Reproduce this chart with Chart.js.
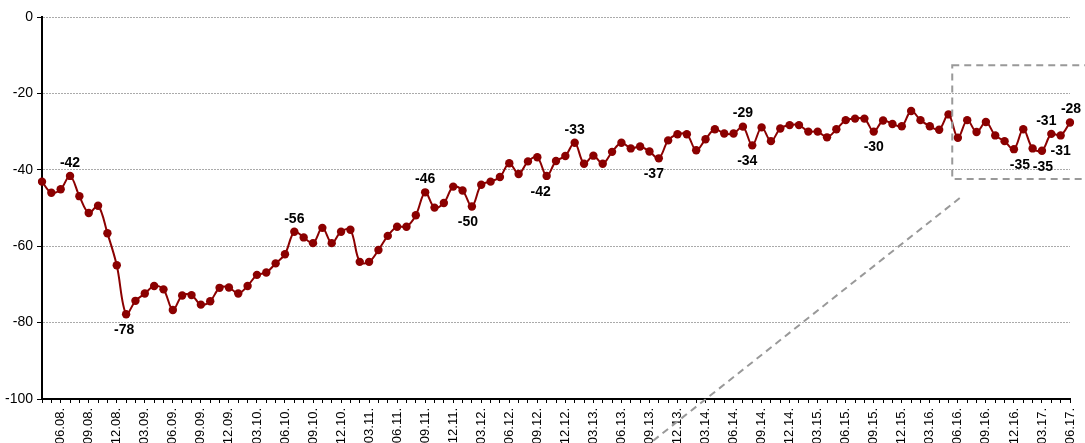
<!DOCTYPE html>
<html>
<head>
<meta charset="utf-8">
<script src="https://cdn.jsdelivr.net/npm/chart.js@4.4.1/dist/chart.umd.min.js"></script>
<style>
  html, body { margin: 0; padding: 0; overflow: hidden; background: #fff; }
</style>
</head>
<body>
<canvas id="chart" width="1085" height="458"></canvas>
<script>
// monthly categories, 04.08 .. 06.17
var months = [
  '04.08.', '05.08.', '06.08.', '07.08.', '08.08.', '09.08.', '10.08.', '11.08.', '12.08.',
  '01.09.', '02.09.', '03.09.', '04.09.', '05.09.', '06.09.', '07.09.', '08.09.', '09.09.', '10.09.', '11.09.', '12.09.',
  '01.10.', '02.10.', '03.10.', '04.10.', '05.10.', '06.10.', '07.10.', '08.10.', '09.10.', '10.10.', '11.10.', '12.10.',
  '01.11.', '02.11.', '03.11.', '04.11.', '05.11.', '06.11.', '07.11.', '08.11.', '09.11.', '10.11.', '11.11.', '12.11.',
  '01.12.', '02.12.', '03.12.', '04.12.', '05.12.', '06.12.', '07.12.', '08.12.', '09.12.', '10.12.', '11.12.', '12.12.',
  '01.13.', '02.13.', '03.13.', '04.13.', '05.13.', '06.13.', '07.13.', '08.13.', '09.13.', '10.13.', '11.13.', '12.13.',
  '01.14.', '02.14.', '03.14.', '04.14.', '05.14.', '06.14.', '07.14.', '08.14.', '09.14.', '10.14.', '11.14.', '12.14.',
  '01.15.', '02.15.', '03.15.', '04.15.', '05.15.', '06.15.', '07.15.', '08.15.', '09.15.', '10.15.', '11.15.', '12.15.',
  '01.16.', '02.16.', '03.16.', '04.16.', '05.16.', '06.16.', '07.16.', '08.16.', '09.16.', '10.16.', '11.16.', '12.16.',
  '01.17.', '02.17.', '03.17.', '04.17.', '05.17.', '06.17.'
];

var values = [
  -43.1, -46.0, -45.1, -41.6, -46.9, -51.3, -49.4, -56.6, -65.0,
  -77.8, -74.3, -72.4, -70.4, -71.3, -76.7, -72.9, -72.8, -75.3, -74.4, -70.9, -70.8,
  -72.4, -70.4, -67.5, -66.9, -64.5, -62.1, -56.2, -57.7, -59.2, -55.2, -59.2, -56.2,
  -55.7, -64.1, -64.1, -61.0, -57.3, -54.9, -54.9, -51.9, -45.9, -49.9, -48.7, -44.4,
  -45.4, -49.6, -43.9, -43.1, -41.9, -38.3, -41.1, -37.8, -36.7, -41.6, -37.7, -36.4,
  -32.9, -38.4, -36.3, -38.4, -35.3, -32.9, -34.4, -33.9, -35.2, -37.0, -32.3, -30.7,
  -30.7, -34.9, -32.0, -29.4, -30.5, -30.5, -28.7, -33.6, -28.9, -32.5, -29.2, -28.3,
  -28.3, -30.0, -30.0, -31.5, -29.4, -27.0, -26.6, -26.6, -30.0, -27.1, -28.0, -28.6,
  -24.6, -27.0, -28.6, -29.5, -25.5, -31.6, -27.0, -30.1, -27.5, -31.0, -32.5, -34.6,
  -29.4, -34.4, -35.0, -30.6, -31.0, -27.6
];

var quarterMonths = ['03', '06', '09', '12'];
var yTicks = [0, -20, -40, -60, -80, -100];

// which points carry a value label, and on which side
var labelled = [
  [3, 'up', 0], [9, 'down', -2], [27, 'up', 0], [41, 'up', 0], [46, 'down', -4],
  [54, 'down', -6], [57, 'up', 0], [66, 'down', -5], [75, 'up', 0], [76, 'down', -5],
  [89, 'down', 0], [104, 'down', 6], [107, 'down', 1], [108, 'up', -5], [109, 'down', 0],
  [110, 'up', 1]
];

// zoom frame in data units: [x index, value]
var zoomBox = [[97.4, -12.6], [113, -42.4]];
var zoomLine = [[98.2, -47.4], [65.1, -111.5]];

var darkRed = '#8b0000';

var valueLabels = {
  id: 'valueLabels',
  afterDatasetsDraw: function(chart) {
    var ctx = chart.ctx;
    var meta = chart.getDatasetMeta(0);
    ctx.save();
    ctx.font = 'bold 14px "Liberation Sans", Arial, sans-serif';
    ctx.fillStyle = '#000';
    ctx.textAlign = 'center';
    ctx.textBaseline = 'middle';
    labelled.forEach(function(l) {
      var pt = meta.data[l[0]];
      var dy = l[1] == 'up' ? -13 : 16;
      ctx.fillText(Math.round(values[l[0]]), pt.x + l[2], pt.y + dy);
    });
    ctx.restore();
  }
};

var zoomFrame = {
  id: 'zoomFrame',
  afterDraw: function(chart) {
    var x = chart.scales.x, y = chart.scales.y;
    var ctx = chart.ctx;
    ctx.save();
    ctx.strokeStyle = '#999';
    ctx.lineWidth = 2;
    ctx.setLineDash([7, 5]);
    var x1 = x.getPixelForValue(zoomBox[0][0]), y1 = y.getPixelForValue(zoomBox[0][1]);
    var x2 = x.getPixelForValue(zoomBox[1][0]), y2 = y.getPixelForValue(zoomBox[1][1]);
    ctx.strokeRect(x1, y1, x2 - x1, y2 - y1);
    ctx.beginPath();
    ctx.moveTo(x.getPixelForValue(zoomLine[0][0]), y.getPixelForValue(zoomLine[0][1]));
    ctx.lineTo(x.getPixelForValue(zoomLine[1][0]), y.getPixelForValue(zoomLine[1][1]));
    ctx.stroke();
    ctx.restore();
  }
};

new Chart('chart', {
  type: 'line',
  data: {
    labels: months,
    datasets: [{
      data: values,
      borderColor: darkRed,
      backgroundColor: darkRed,
      borderWidth: 2,
      pointRadius: 4.2,
      pointBorderWidth: 0,
      pointBackgroundColor: darkRed,
      tension: 0.35,
      fill: false
    }]
  },
  options: {
    responsive: false,
    animation: false,
    layout: { padding: { top: 17, right: 15, left: 2, bottom: 0 } },
    plugins: {
      legend: { display: false },
      tooltip: { enabled: false }
    },
    scales: {
      x: {
        ticks: {
          autoSkip: false,
          maxRotation: 90,
          minRotation: 90,
          padding: 5,
          color: '#000',
          font: { family: '"Liberation Sans", Arial, sans-serif', size: 13 },
          callback: function(v, i) {
            var m = months[i];
            return quarterMonths.indexOf(m.slice(0, 2)) >= 0 ? m : '';
          }
        },
        grid: {
          drawOnChartArea: false,
          drawTicks: true,
          tickLength: 4,
          tickColor: '#000',
          tickWidth: 1
        },
        border: { display: true, color: '#000', width: 2 },
        afterFit: function(s) {
          s.height = 59;
          s.paddingLeft = 2;
          s.paddingRight = 3;
        }
      },
      y: {
        min: -100,
        max: 0,
        afterBuildTicks: function(s) {
          s.ticks = yTicks.map(function(v) { return { value: v }; });
        },
        ticks: {
          color: '#000',
          padding: 4,
          font: { family: '"Liberation Sans", Arial, sans-serif', size: 14 }
        },
        grid: {
          color: '#aaa',
          lineWidth: 1,
          drawTicks: true,
          tickLength: 5,
          tickColor: '#000',
          tickWidth: 1,
          tickBorderDash: []
        },
        border: { display: true, color: '#000', width: 2, dash: [2, 1] },
        afterFit: function(s) { s.width = 40; }
      }
    }
  },
  plugins: [valueLabels, zoomFrame]
});
</script>
</body>
</html>
